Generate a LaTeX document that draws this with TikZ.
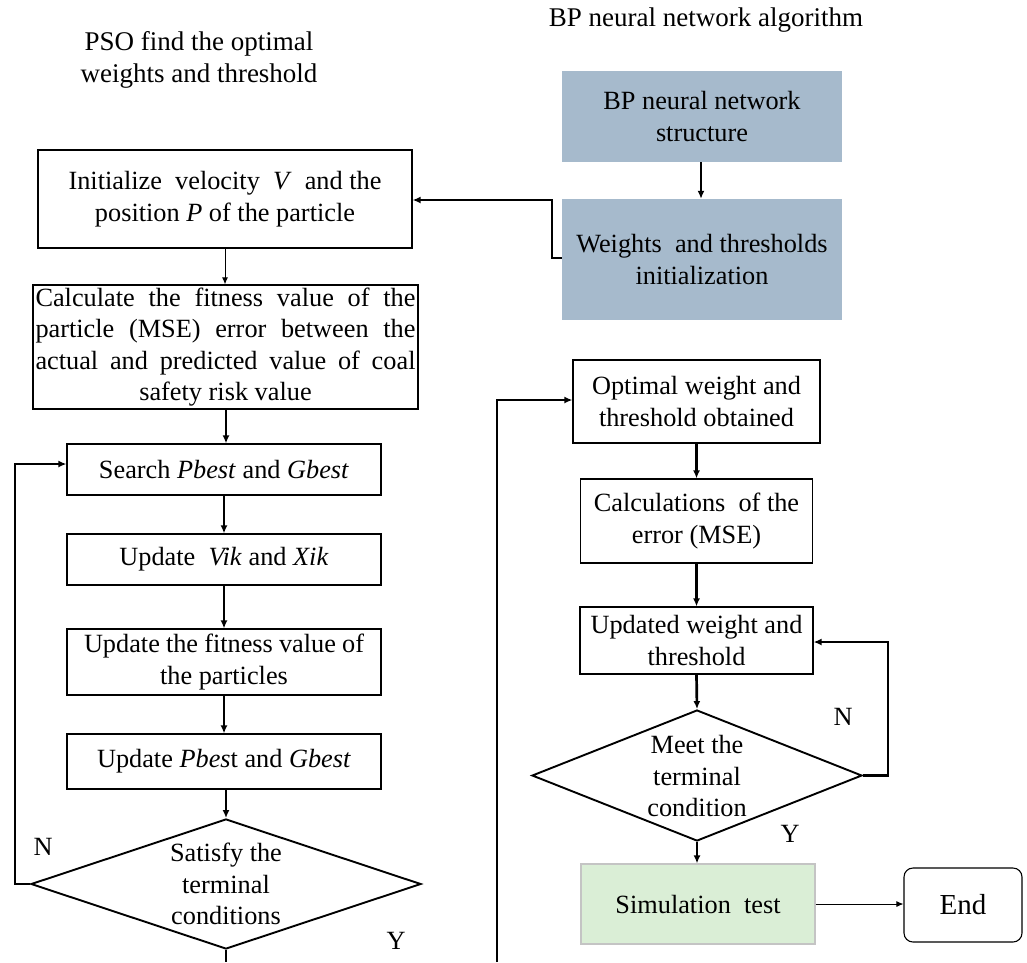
\documentclass[tikz,border=0pt]{standalone}
\usepackage{fontspec}
\setmainfont{Liberation Serif}
\usetikzlibrary{shapes.geometric,arrows.meta}
\definecolor{bpblue}{RGB}{166,186,204}
\definecolor{simgreen}{RGB}{218,238,214}
\definecolor{simborder}{RGB}{196,196,196}
\newcommand{\fsz}{\fontsize{26.3}{31.5}\selectfont}
\newcommand{\jline}[1]{\makebox[380pt][s]{#1}}
\begin{document}
\begin{tikzpicture}[x=1pt,y=-1pt,
  box/.style={draw, line width=1.2pt, align=center, inner sep=0pt, font=\fsz},
  bpbox/.style={fill=bpblue, align=center, inner sep=0pt, font=\fsz},
  simbox/.style={fill=simgreen, draw=simborder, line width=1.2pt, align=center, inner sep=0pt, font=\fsz},
  endbox/.style={draw, line width=1.1pt, rounded corners=9pt, align=center, inner sep=0pt, font=\fontsize{29}{34}\selectfont},
  dia/.style={draw, diamond, line width=1.9pt, inner sep=0pt},
  txt/.style={align=center, inner sep=0pt, font=\fsz},
  arr/.style={line width=2.7pt, -{Latex[length=8pt,width=7pt]}},
  tarr/.style={line width=1pt, -{Latex[length=7pt,width=6pt]}},
  ln/.style={line width=2.7pt}]
\useasboundingbox (0,0) rectangle (1027,962);

% titles
\node[txt, font=\fontsize{27}{32}\selectfont] (t1) at (199,60) {PSO find the optimal\\weights and threshold};
\node[txt, font=\fontsize{27}{32}\selectfont] (t2) at (706,20) {BP neural network algorithm};

% BP column top
\node[bpbox, minimum width=280, minimum height=91] (bps) at (702,116.5) {BP neural network\\structure};
\node[bpbox, minimum width=280, minimum height=121] (wt) at (702,259.5) {Weights\ \ and thresholds\\initialization};

% PSO column
\node[box, minimum width=374, minimum height=98] (init) at (225,199) {Initialize\ \ velocity\ \ \textit{V}\ \ and the\\position \textit{P} of the particle};
\node[box, minimum width=385, minimum height=124] (calc) at (225.5,347) {\jline{Calculate the fitness value of the}\\\jline{particle (MSE) error between the}\\\jline{actual and predicted value of coal}\\safety risk value};
\node[box, minimum width=314, minimum height=51] (srch) at (224,469.5) {Search \textit{Pbest} and \textit{Gbest}};
\node[box, minimum width=314, minimum height=51] (vik) at (224,559.5) {Update\ \ \textit{Vik} and \textit{Xik}};
\node[box, minimum width=314, minimum height=66] (fit) at (224,662) {\makebox[280pt][s]{Update the fitness value of}\\the particles};
\node[box, minimum width=314, minimum height=55] (pbu) at (224,761.5) {Update \textit{Pbes}t and \textit{Gbest}};
\node[dia, minimum width=390, minimum height=130] (d1) at (226,884) {};
\node[txt] (d1t) at (226,884) {Satisfy\ the\\terminal\\conditions};

% BP column lower
\node[box, minimum width=247, minimum height=83] (opt) at (696.5,401.5) {Optimal weight and\\threshold obtained};
\node[box, minimum width=232, minimum height=84] (cal2) at (696.5,521) {Calculations\ \ of the\\error (MSE)};
\node[box, minimum width=233, minimum height=67] (upd) at (696.5,640.5) {Updated weight and\\threshold};
\node[dia, minimum width=330, minimum height=131] (d2) at (697,775.5) {};
\node[txt] (d2t) at (697,776) {Meet the\\terminal\\condition};
\node[simbox, minimum width=234, minimum height=80] (sim) at (698,904) {Simulation\ \ test};
\node[endbox, minimum width=118, minimum height=74] (end) at (963,905) {End};

% labels
\node[txt] (n1) at (43,847) {N};
\node[txt] (y1) at (396,941) {Y};
\node[txt] (n2) at (843,717) {N};
\node[txt] (y2) at (790,834) {Y};

% connectors
\coordinate (w1) at (552,258);
\coordinate (w2) at (552,200);
\draw[arr] (wt.west |- w1) -- (w1) -- (w2) -- (init.east |- w2);
\draw[arr] ([xshift=-1pt]bps.south) -- ([xshift=-1pt]wt.north);
\draw[tarr] (init.south) -- (calc.north -| init.south);
\draw[arr] (calc.south -| d1.north) -- (srch.north -| d1.north);
\draw[arr] (srch.south) -- (vik.north);
\draw[arr] (vik.south) -- (fit.north);
\draw[arr] (fit.south) -- (pbu.north);
\draw[arr] (pbu.south -| d1.north) -- (d1.north);
\coordinate (l1) at (15,884);
\coordinate (l2) at (15,464);
\draw[arr] (d1.west) -- (l1) -- (l2) -- (srch.west |- l2);
\coordinate (b1) at (226,962);
\draw[ln] (d1.south) -- (b1);
\coordinate (r1) at (497,962);
\coordinate (r2) at (497,400);
\draw[arr] (r1) -- (r2) -- (opt.west |- r2);
\draw[arr] (opt.south) -- (cal2.north);
\draw[arr] (cal2.south) -- (upd.north);
\draw[arr] (upd.south) -- (d2.north);
\coordinate (q1) at (888,775.5);
\coordinate (q2) at (888,642);
\draw[arr] (d2.east) -- (q1) -- (q2) -- (upd.east |- q2);
\draw[arr] (d2.south) -- (sim.north -| d2.south);
\draw[tarr] (sim.east) -- (end.west |- sim.east);
\end{tikzpicture}
\end{document}
